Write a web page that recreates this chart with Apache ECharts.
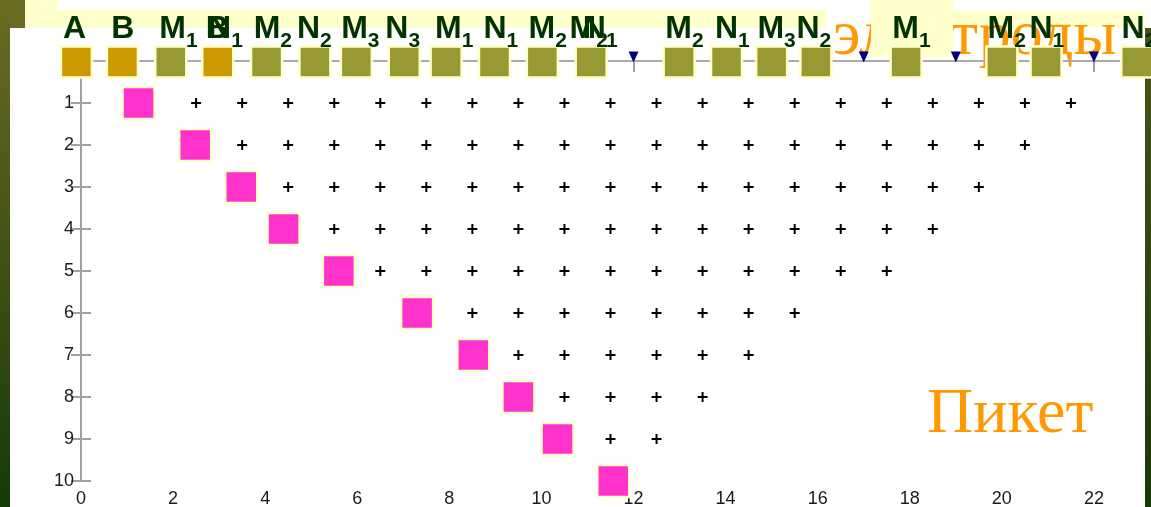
<!DOCTYPE html>
<html>
<head>
<meta charset="utf-8">
<script src="https://cdn.jsdelivr.net/npm/echarts@6/dist/echarts.min.js"></script>
<style>
  html, body { margin: 0; padding: 0; background: #fff; }
  #chart { width: 1151px; height: 507px; }
</style>
</head>
<body>
<div id="chart"></div>
<script>
// электроды на профиле (позиция по пикетам)
const electrodeX = [-0.1, 0.9, 1.95, 2.97, 4.03, 5.08, 5.98, 7.02, 7.93, 8.98, 10.02, 11.08, 12.99, 14.02, 15.0, 15.96, 17.92, 20.0, 20.96, 22.93];
// A, B - питающие, остальные - приемные
const electrodeKind = ['AB', 'AB', 'MN', 'AB', 'MN', 'MN', 'MN', 'MN', 'MN', 'MN', 'MN', 'MN', 'MN', 'MN', 'MN', 'MN', 'MN', 'MN', 'MN', 'MN'];
// неактивные электроды
const idleX = [12, 17, 19, 22];

// подписи электродов
const tagText = ['A', 'B', 'M1', 'B', 'N1', 'M2', 'N2', 'M3', 'N3', 'M1', 'N1', 'M2', 'M2', 'N1', 'M2', 'N1', 'M3', 'N2', 'M1', 'M2', 'N1', 'N2'];
const tagX = [-0.14, 0.91, 1.99, 2.96, 3.01, 4.04, 4.94, 5.94, 6.86, 7.98, 8.99, 10.01, 10.9, 11.15, 12.98, 14.02, 14.98, 15.79, 17.91, 19.98, 20.85, 22.85];

// точки измерений по уровням 1..9
const plusRows = [
  [1.5, 2.5, 3.5, 4.5, 5.5, 6.5, 7.5, 8.5, 9.5, 10.5, 11.5, 12.5, 13.5, 14.5, 15.5, 16.5, 17.5, 18.5, 19.5, 20.5, 21.5],
  [3.5, 4.5, 5.5, 6.5, 7.5, 8.5, 9.5, 10.5, 11.5, 12.5, 13.5, 14.5, 15.5, 16.5, 17.5, 18.5, 19.5, 20.5],
  [4.5, 5.5, 6.5, 7.5, 8.5, 9.5, 10.5, 11.5, 12.5, 13.5, 14.5, 15.5, 16.5, 17.5, 18.5, 19.5],
  [5.5, 6.5, 7.5, 8.5, 9.5, 10.5, 11.5, 12.5, 13.5, 14.5, 15.5, 16.5, 17.5, 18.5],
  [6.5, 7.5, 8.5, 9.5, 10.5, 11.5, 12.5, 13.5, 14.5, 15.5, 16.5, 17.5],
  [8.5, 9.5, 10.5, 11.5, 12.5, 13.5, 14.5, 15.5],
  [9.5, 10.5, 11.5, 12.5, 13.5, 14.5],
  [10.5, 11.5, 12.5, 13.5],
  [11.5, 12.5]
];

// текущие точки (розовые)
const pinkX = [1.25, 2.48, 3.48, 4.4, 5.6, 7.3, 8.52, 9.5, 10.35, 11.56];
const pinkDepth = [1, 2, 3, 4, 5, 6, 7, 8, 9, 10];

const sans = 'Liberation Sans, Arial, sans-serif';
const serif = 'Liberation Serif, Times New Roman, serif';
const gray = '#a0a0a0';

function tagLabel(t) {
  const sub = t.slice(1) || ' ';
  return '{p|' + sub + '}{m|' + t[0] + '}{s|' + sub + '}';
}

const plusData = [];
plusRows.forEach((row, i) => row.forEach(x => plusData.push([x, i + 1])));

const chart = echarts.init(document.getElementById('chart'));
chart.setOption({
  backgroundColor: '#fff',
  animation: false,
  grid: { left: 81, right: 11, top: 61, bottom: 26, outerBoundsMode: 'none' },
  xAxis: [
    {
      type: 'value', min: 0, max: 23, interval: 2, position: 'bottom',
      splitLine: { show: false },
      axisLine: { lineStyle: { color: gray, width: 2 } },
      axisTick: { inside: true, length: 8, lineStyle: { color: gray, width: 2 } },
      axisLabel: { margin: 9, color: '#1a1a1a', fontSize: 18, fontFamily: sans, showMaxLabel: false,
        formatter: v => v === 23 ? '' : String(v) }
    },
    {
      type: 'value', min: 0, max: 23, interval: 2, position: 'top',
      splitLine: { show: false },
      axisLine: { lineStyle: { color: '#aaa', width: 2 } },
      axisTick: { inside: true, length: 11, lineStyle: { color: gray, width: 2 } },
      axisLabel: { show: false }
    }
  ],
  yAxis: [
    {
      type: 'value', min: 0, max: 10, interval: 1, inverse: true, position: 'left',
      splitLine: { show: false },
      axisLine: { lineStyle: { color: gray, width: 2 } },
      axisTick: { inside: true, length: 10, lineStyle: { color: gray, width: 2 } },
      axisLabel: { margin: 7, color: '#1a1a1a', fontSize: 18, fontFamily: sans,
        formatter: v => v === 0 ? '' : String(v) }
    },
    {
      type: 'value', min: 0, max: 10, interval: 1, inverse: true, position: 'right',
      splitLine: { show: false },
      axisLine: { lineStyle: { color: gray, width: 2 } },
      axisTick: { inside: true, length: 10, lineStyle: { color: gray, width: 2 } },
      axisLabel: { show: false }
    }
  ],
  graphic: [
    // фон слайда
    { type: 'rect', z: -20, shape: { x: 0, y: 0, width: 10, height: 507 },
      style: { fill: new echarts.graphic.LinearGradient(0, 0, 0, 1, [
        { offset: 0, color: '#6c6b22' }, { offset: 1, color: '#163908' }]) } },
    { type: 'rect', z: -20, shape: { x: 10, y: 0, width: 15, height: 28 }, style: { fill: '#6a6a21' } },
    { type: 'rect', z: -20, shape: { x: 25, y: 0, width: 33, height: 28 }, style: { fill: '#ffffcc' } },
    { type: 'rect', z: -20, shape: { x: 58, y: 10, width: 768, height: 18 }, style: { fill: '#ffffcc' } },
    { type: 'rect', z: -20, shape: { x: 953, y: 11, width: 192, height: 16 }, style: { fill: '#ffffcc' } },
    { type: 'rect', z: -20, shape: { x: 1145, y: 28, width: 6, height: 479 },
      style: { fill: new echarts.graphic.LinearGradient(0, 0, 0, 1, [
        { offset: 0, color: '#4a5418' }, { offset: 1, color: '#163908' }]) } },
    // подписи
    { type: 'text', z: -15, x: 833, y: 5,
      style: { text: 'электроды', fill: '#ff9900', font: '64px ' + serif, verticalAlign: 'top' } },
    { type: 'rect', z: -10, shape: { x: 871, y: 0, width: 82, height: 57 }, style: { fill: '#ffffcc' } },
    { type: 'text', z: -15, x: 927, y: 383,
      style: { text: 'Пикет', fill: '#ff9900', font: '64px ' + serif, verticalAlign: 'top' } }
  ],
  series: [
    {
      type: 'scatter', name: 'измерения', z: 3, silent: true,
      symbol: 'path://M4,0 L6,0 L6,4 L10,4 L10,6 L6,6 L6,10 L4,10 L4,6 L0,6 L0,4 L4,4 Z',
      symbolSize: 10, itemStyle: { color: '#000', opacity: 1 },
      data: plusData
    },
    {
      type: 'scatter', name: 'текущая точка', z: 4, silent: true, clip: false,
      symbol: 'rect', symbolSize: 32,
      itemStyle: { color: '#ff33cc', borderColor: '#ffffcc', borderWidth: 2.5, opacity: 1 },
      data: pinkX.map((x, i) => [x, pinkDepth[i]])
    },
    {
      type: 'scatter', name: 'неактивные', z: 4, silent: true, clip: false,
      symbol: 'path://M0,0 L10,0 L5,10 Z', symbolSize: [10, 11], symbolOffset: [0, -4],
      itemStyle: { color: '#000080', opacity: 1 },
      data: idleX.map(x => [x, 0])
    },
    {
      type: 'scatter', name: 'электроды', z: 5, silent: true, clip: false,
      symbol: 'rect', symbolSize: 31, symbolOffset: [0, 1],
      itemStyle: { borderColor: '#ffffcc', borderWidth: 2.5, opacity: 1 },
      data: electrodeX.map((x, i) => ({
        value: [x, 0],
        itemStyle: { color: electrodeKind[i] === 'AB' ? '#cc9900' : '#999933' }
      }))
    },
    {
      type: 'scatter', name: 'подписи', z: 6, silent: true, clip: false,
      symbolSize: 1, itemStyle: { color: 'transparent', opacity: 1 },
      data: tagX.map((x, i) => ({ value: [x, 0], name: tagText[i] })),
      label: {
        show: true, position: 'top', distance: 9, opacity: 1,
        formatter: p => tagLabel(p.name),
        rich: {
          m: { fontFamily: sans, fontSize: 32, fontWeight: 'bold', color: '#003300', verticalAlign: 'top', lineHeight: 32 },
          s: { fontFamily: sans, fontSize: 21, fontWeight: 'bold', color: '#003300', verticalAlign: 'top', padding: [17, 0, 0, 0] },
          p: { fontFamily: sans, fontSize: 21, fontWeight: 'bold', color: 'transparent', verticalAlign: 'top', padding: [17, 0, 0, 0] }
        }
      }
    }
  ]
});
</script>
</body>
</html>
